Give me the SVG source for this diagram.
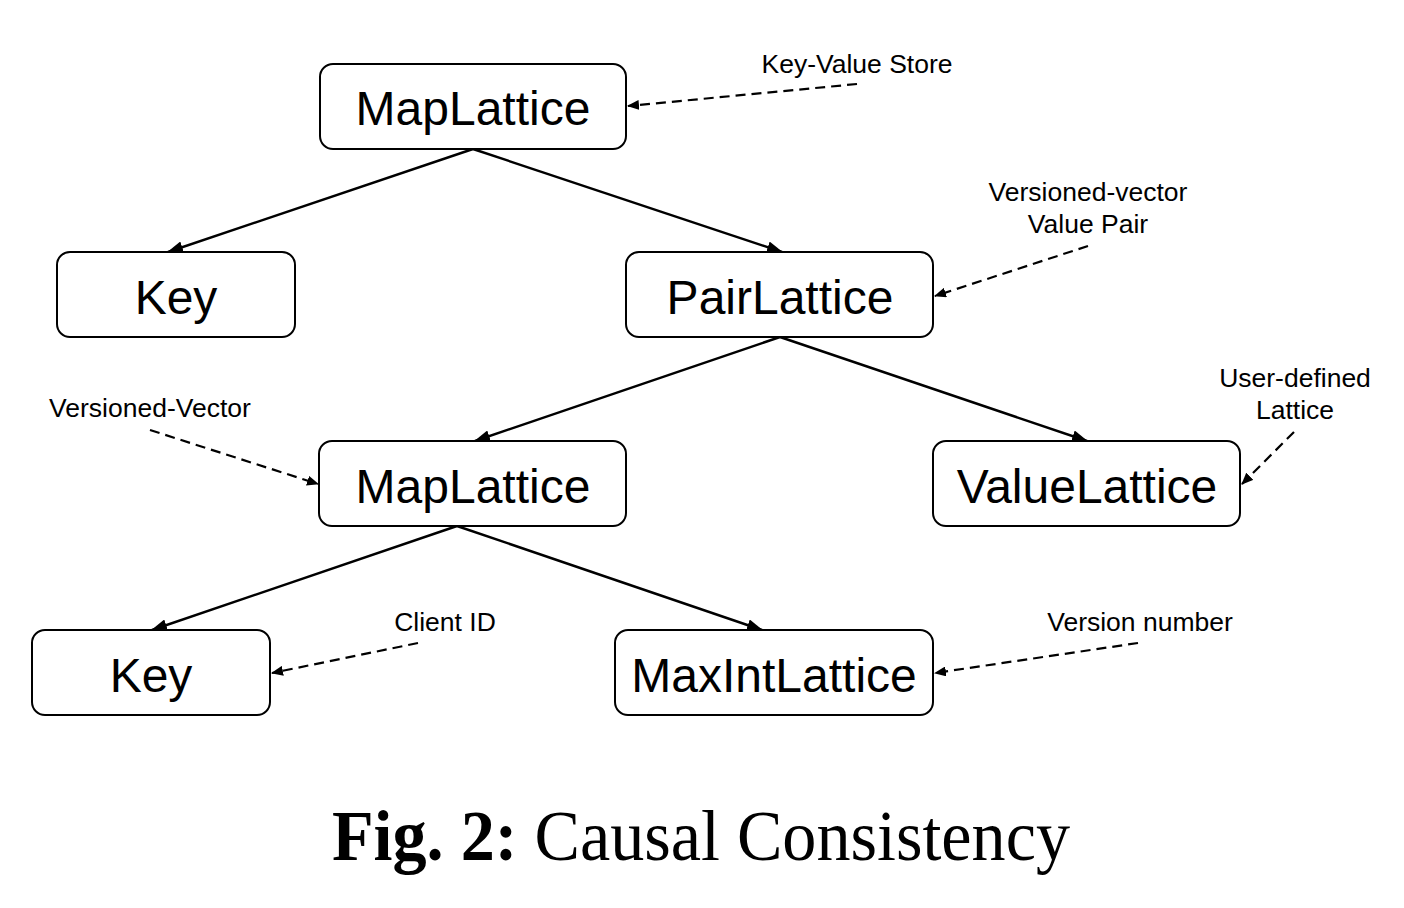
<svg xmlns="http://www.w3.org/2000/svg" width="1404" height="908" viewBox="0 0 1404 908">
<defs>
<marker id="ah" viewBox="0 0 16 12" refX="15" refY="6" markerWidth="16" markerHeight="12" markerUnits="userSpaceOnUse" orient="auto">
<path d="M0,0 L16,6 L0,12 Z" fill="#000"/>
</marker>
<marker id="ahd" viewBox="0 0 12 10" refX="11" refY="5" markerWidth="12" markerHeight="10" markerUnits="userSpaceOnUse" orient="auto">
<path d="M0,0 L12,5 L0,10 Z" fill="#000"/>
</marker>
</defs>
<style>
.box{fill:#fff;stroke:#000;stroke-width:2}
.nt{font-family:"Liberation Sans",Arial,sans-serif;font-size:48px;text-anchor:middle;fill:#000}
.lb{font-family:"Liberation Sans",Arial,sans-serif;font-size:26.5px;text-anchor:middle;fill:#000}
.edge{stroke:#000;stroke-width:2.4;fill:none;marker-end:url(#ah)}
.dash{stroke:#000;stroke-width:2.2;fill:none;stroke-dasharray:10 6;marker-end:url(#ahd)}
.cap{font-family:"Liberation Serif","Times New Roman",serif;font-size:72px;fill:#000}
</style>
<rect width="1404" height="908" fill="#fff"/>
<g id="connectors">
<line class="edge" x1="473" y1="149" x2="168" y2="252"/>
<line class="edge" x1="473" y1="149" x2="782" y2="252"/>
<line class="edge" x1="780" y1="337" x2="475" y2="441"/>
<line class="edge" x1="780" y1="337" x2="1087" y2="441"/>
<line class="edge" x1="457" y1="526" x2="152" y2="630"/>
<line class="edge" x1="457" y1="526" x2="762" y2="630"/>
<line class="dash" x1="857" y1="84" x2="628" y2="106"/>
<line class="dash" x1="1088" y1="246" x2="935" y2="296"/>
<line class="dash" x1="1294" y1="432" x2="1242" y2="484"/>
<line class="dash" x1="150" y1="430" x2="318" y2="484"/>
<line class="dash" x1="418" y1="643" x2="272" y2="673"/>
<line class="dash" x1="1138" y1="643" x2="935" y2="673"/>
</g>
<g id="n-maplattice-top"><rect class="box" x="320" y="64" width="306" height="85" rx="13"/><text class="nt" x="473" y="125">MapLattice</text></g>
<g id="n-key-top"><rect class="box" x="57" y="252" width="238" height="85" rx="13"/><text class="nt" x="176" y="314">Key</text></g>
<g id="n-pairlattice"><rect class="box" x="626" y="252" width="307" height="85" rx="13"/><text class="nt" x="780" y="314">PairLattice</text></g>
<g id="n-maplattice-mid"><rect class="box" x="319" y="441" width="307" height="85" rx="13"/><text class="nt" x="473" y="503">MapLattice</text></g>
<g id="n-valuelattice"><rect class="box" x="933" y="441" width="307" height="85" rx="13"/><text class="nt" x="1087" y="503">ValueLattice</text></g>
<g id="n-key-bottom"><rect class="box" x="32" y="630" width="238" height="85" rx="13"/><text class="nt" x="151" y="692">Key</text></g>
<g id="n-maxintlattice"><rect class="box" x="615" y="630" width="318" height="85" rx="13"/><text class="nt" x="774" y="692">MaxIntLattice</text></g>
<g id="labels">
<text class="lb" x="857" y="73">Key-Value Store</text>
<text class="lb" x="1088" y="201">Versioned-vector</text>
<text class="lb" x="1088" y="233">Value Pair</text>
<text class="lb" x="1295" y="387">User-defined</text>
<text class="lb" x="1295" y="419">Lattice</text>
<text class="lb" x="150" y="417">Versioned-Vector</text>
<text class="lb" x="445" y="631">Client ID</text>
<text class="lb" x="1140" y="631">Version number</text>
</g>
<text class="cap" x="332" y="860" textLength="738" lengthAdjust="spacingAndGlyphs"><tspan font-weight="bold">Fig. 2:</tspan> Causal Consistency</text>
</svg>
